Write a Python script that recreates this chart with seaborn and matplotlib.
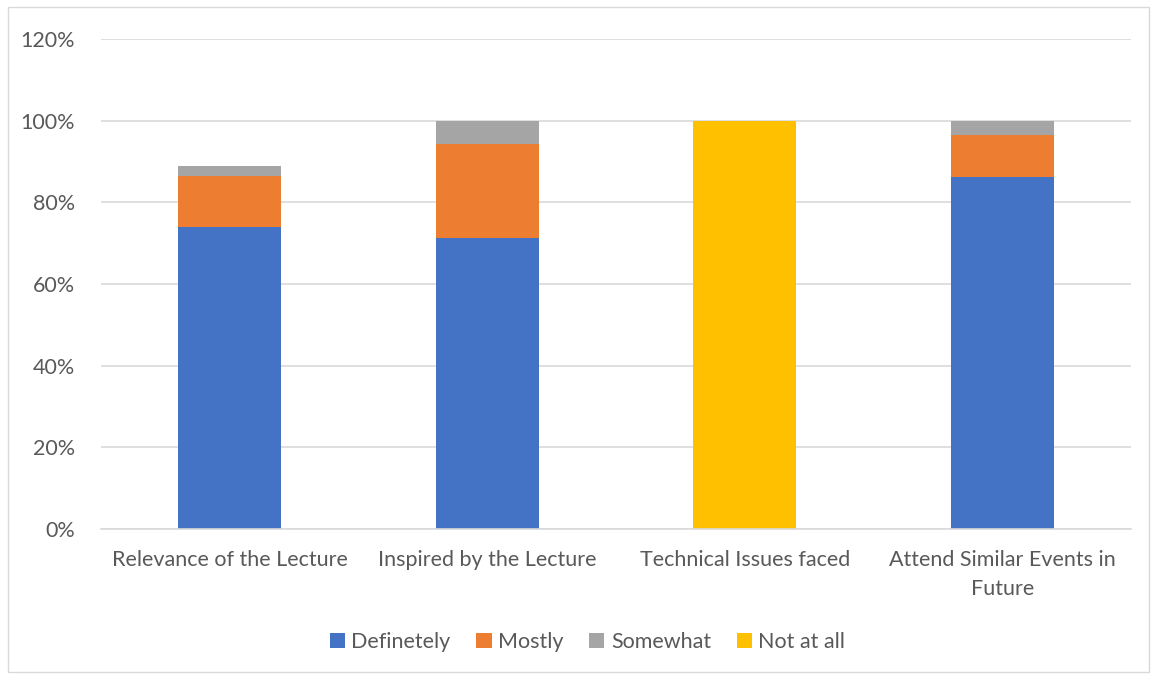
import numpy as np
import pandas as pd
import matplotlib
matplotlib.use("Agg")
import matplotlib.pyplot as plt
from matplotlib.patches import Rectangle
import seaborn as sns

# survey results, percent of responses
questions = ["Relevance of the Lecture", "Inspired by the Lecture",
             "Technical Issues faced", "Attend Similar Events in\nFuture"]
definetely = [74.0, 71.2, 0.0, 86.2]
mostly = [12.5, 23.1, 0.0, 10.2]
somewhat = [2.4, 5.7, 0.0, 3.6]
not_at_all = [0.0, 0.0, 100.0, 0.0]

series_names = ["Definetely", "Mostly", "Somewhat", "Not at all"]
series_colors = ["#4472C4", "#ED7D31", "#A5A5A5", "#FFC000"]
yticks = [0, 20, 40, 60, 80, 100, 120]

sns.set_theme(style="white")
plt.rcParams['font.family'] = ['Lato', 'DejaVu Sans']

df = pd.DataFrame({"question": questions, "Definetely": definetely,
                   "Mostly": mostly, "Somewhat": somewhat,
                   "Not at all": not_at_all})
# cumulative tops so that each layer can be overdrawn from the top down
cum = df[series_names].cumsum(axis=1)

fig = plt.figure(figsize=(11.52, 6.75), dpi=100)
ax = fig.add_axes([0.0877, 0.2163, 0.8941, 0.7259])

for name, color in reversed(list(zip(series_names, series_colors))):
    sns.barplot(x=df["question"], y=cum[name], color=color, width=0.4,
                linewidth=0, saturation=1, ax=ax, label=name)

ax.set_ylim(0, 120)
ax.set_xlim(-0.5, 3.5)
ax.set_yticks(yticks)
ax.set_yticklabels([f"{v}%" for v in yticks])
ax.yaxis.grid(True, color="#D9D9D9", linewidth=1.2)
ax.set_axisbelow(True)
for s in ["top", "right", "left"]:
    ax.spines[s].set_visible(False)
ax.spines["bottom"].set_color("#D9D9D9")
ax.spines["bottom"].set_linewidth(1.2)
ax.set_xlabel("")
ax.set_ylabel("")
ax.tick_params(axis="y", length=0, pad=19, labelsize=15.5, labelcolor="#595959")
ax.tick_params(axis="x", length=0, pad=15, labelsize=15.5, labelcolor="#595959")
for lbl in ax.get_xticklabels():
    lbl.set_linespacing(1.6)

# legend in original series order
handles, labels = ax.get_legend_handles_labels()
if ax.get_legend() is not None:
    ax.get_legend().remove()
order = [labels.index(n) for n in series_names]
fig.legend([handles[i] for i in order], series_names, loc="center",
           bbox_to_anchor=(0.51, 0.049), ncol=4, frameon=False,
           fontsize=15.5, labelcolor="#595959", handlelength=0.7,
           handleheight=0.7, handletextpad=0.3, columnspacing=1.2)

# thin chart border
fig.patches.append(Rectangle((0.007, 0.004), 0.99, 0.985, transform=fig.transFigure,
                             fill=False, edgecolor="#D9D9D9", linewidth=1))

fig.savefig("out.png", dpi=100, facecolor="white")
